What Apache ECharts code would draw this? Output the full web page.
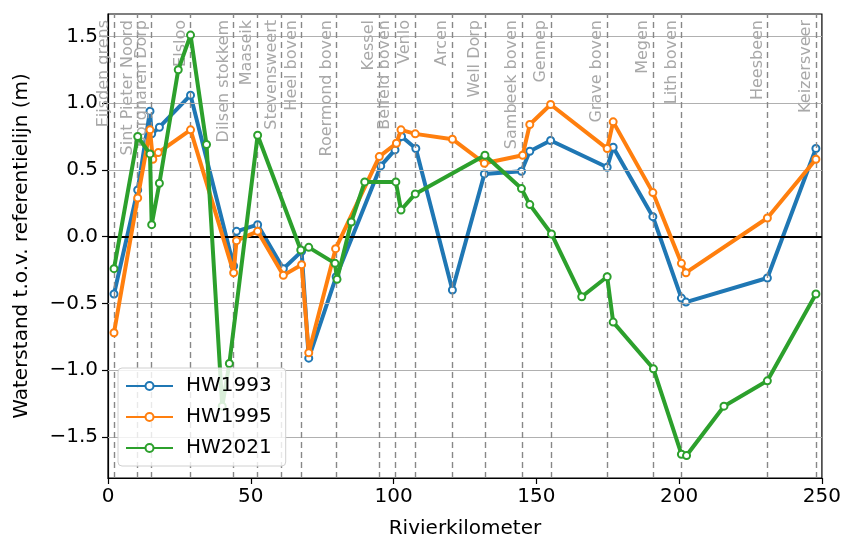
<!DOCTYPE html>
<html><head><meta charset="utf-8">
<script src="https://cdn.jsdelivr.net/npm/echarts@6/dist/echarts.min.js"></script>
<style>html,body{margin:0;padding:0;background:#fff}#c{width:844px;height:545px}</style>
</head><body><div id="c"></div>
<script>
// Station reference lines
const stationNames = ["Eijsden grens","Sint Pieter Noord","Borgharen Dorp","Elsloo","Dilsen stokkem","Maaseik","Stevensweert","Heel boven","Roermond boven","Kessel","Belfeld boven","Venlo","Arcen","Well Dorp","Sambeek boven","Gennep","Grave boven","Megen","Lith boven","Heesbeen","Keizersveer"];
const stationKm = [2.1, 10.4, 15.3, 28.9, 43.9, 52.2, 60.8, 67.8, 80.0, 95.0, 100.6, 107.6, 120.5, 132.0, 144.9, 155.1, 174.8, 190.8, 200.9, 230.9, 247.9];

// Axis ticks
const xTicks = [0, 50, 100, 150, 200, 250];
const yTicks = [-1.5, -1.0, -0.5, 0.0, 0.5, 1.0, 1.5];

// HW1993
const hw1993Km = [2.1, 10.4, 14.7, 15.3, 18.0, 28.9, 44.0, 45.0, 52.4, 61.4, 67.8, 70.3, 79.9, 95.5, 100.5, 102.8, 107.8, 120.6, 131.8, 144.8, 147.7, 155.0, 174.8, 176.9, 190.8, 200.8, 202.4, 230.9, 247.9];
const hw1993 = [-0.43, 0.35, 0.94, 0.77, 0.82, 1.06, -0.22, 0.04, 0.09, -0.24, -0.11, -0.91, -0.30, 0.53, 0.65, 0.75, 0.66, -0.40, 0.47, 0.49, 0.64, 0.72, 0.52, 0.67, 0.15, -0.46, -0.49, -0.31, 0.66];

// HW1995
const hw1995Km = [2.1, 10.4, 14.7, 15.7, 17.6, 28.9, 44.0, 45.0, 52.4, 61.4, 67.8, 70.3, 79.7, 95.0, 101.0, 102.6, 107.6, 120.6, 131.8, 145.2, 147.7, 155.0, 174.8, 176.9, 190.8, 200.8, 202.4, 230.9, 247.9];
const hw1995 = [-0.72, 0.29, 0.80, 0.58, 0.63, 0.80, -0.27, -0.03, 0.04, -0.29, -0.21, -0.87, -0.09, 0.60, 0.70, 0.80, 0.77, 0.73, 0.55, 0.61, 0.84, 0.99, 0.66, 0.86, 0.33, -0.20, -0.27, 0.14, 0.58];

// HW2021
const hw2021Km = [2.1, 10.4, 14.7, 15.3, 18.0, 24.6, 28.9, 34.5, 40.0, 42.5, 52.4, 67.5, 70.3, 79.5, 80.2, 85.2, 89.9, 100.8, 102.6, 107.6, 132.0, 144.8, 147.7, 155.3, 165.9, 174.8, 176.9, 191.0, 200.8, 202.6, 215.7, 230.9, 247.9];
const hw2021 = [-0.24, 0.75, 0.62, 0.09, 0.40, 1.25, 1.51, 0.69, -1.27, -0.95, 0.76, -0.10, -0.08, -0.20, -0.32, 0.11, 0.41, 0.41, 0.20, 0.32, 0.61, 0.36, 0.24, 0.02, -0.45, -0.30, -0.64, -0.99, -1.63, -1.64, -1.27, -1.08, -0.43];

const FONT = 'DejaVu Sans';
const pairs = (xs, ys) => xs.map((x, i) => [x, ys[i]]);
const fmtNum = v => (Math.abs(v) < 1e-9 ? '0.0' : v.toFixed(1)).replace('-', '\u2212');

function lineSeries(name, color, xs, ys, z) {
  return {
    name, type: 'line', data: pairs(xs, ys), z,
    symbol: 'emptyCircle', symbolSize: 7,
    lineStyle: { color, width: 4 },
    itemStyle: { color, borderWidth: 1.8 },
    emphasis: { disabled: true },
    animation: false
  };
}

const chart = echarts.init(document.getElementById('c'), null, { renderer: 'canvas' });
chart.setOption({
  animation: false,
  backgroundColor: '#fff',
  textStyle: { fontFamily: FONT },
  grid: { left: 108, right: 22, top: 14, bottom: 67, show: true, borderColor: '#000', borderWidth: 1.2, backgroundColor: 'transparent' },
  legend: {
    orient: 'vertical', left: 118, top: 368, z: 20,
    data: ['HW1993', 'HW1995', 'HW2021'],
    itemWidth: 47, itemHeight: 10, itemGap: 11,
    padding: [8, 14, 8, 7],
    backgroundColor: 'rgba(255,255,255,0.82)',
    borderColor: '#d0d0d0', borderWidth: 1, borderRadius: 4,
    textStyle: { fontFamily: FONT, fontSize: 20, color: '#000', lineHeight: 20, padding: [0, 0, 0, 8] }
  },
  xAxis: {
    type: 'value', min: 0, max: 250, interval: 50,
    name: 'Rivierkilometer', nameLocation: 'middle', nameGap: 41,
    nameTextStyle: { fontFamily: FONT, fontSize: 20, color: '#000' },
    axisLine: { show: true, onZero: false, lineStyle: { color: '#000', width: 1.2 } },
    axisTick: { show: true, length: 6, lineStyle: { color: '#000', width: 1.2 } },
    axisLabel: { fontFamily: FONT, fontSize: 20, color: '#000', margin: 9 },
    splitLine: { show: false }
  },
  yAxis: {
    type: 'value', min: -1.808, max: 1.668,
    name: 'Waterstand t.o.v. referentielijn (m)', nameLocation: 'middle', nameGap: 76, nameRotate: 90,
    nameTextStyle: { fontFamily: FONT, fontSize: 20, color: '#000' },
    axisLine: { show: true, onZero: false, lineStyle: { color: '#000', width: 1.2 } },
    axisTick: { show: true, length: 6, customValues: yTicks, lineStyle: { color: '#000', width: 1.2 } },
    axisLabel: { fontFamily: FONT, fontSize: 20, color: '#000', margin: 10, customValues: yTicks, formatter: v => fmtNum(v) },
    splitLine: { show: false }
  },
  series: [
    {
      name: 'grid', type: 'line', data: [], z: 1, silent: true,
      markLine: {
        silent: true, animation: false, symbol: ['none', 'none'],
        lineStyle: { color: '#b0b0b0', width: 1, type: 'solid' },
        label: { show: false },
        data: yTicks.filter(v => v !== 0).map(v => ({ yAxis: v }))
      }
    },
    {
      name: 'stations', type: 'line', data: [], z: 2, silent: true,
      markLine: {
        silent: true, animation: false, symbol: ['none', 'none'],
        lineStyle: { color: '#888', width: 1.4, type: [6, 4] },
        label: { show: true, position: 'insideEndTop', distance: [6, 2], color: '#a8a8a8', fontFamily: FONT, fontSize: 16 },
        data: stationKm.map((k, i) => ({ xAxis: k, label: { formatter: stationNames[i] } }))
      }
    },
    {
      name: 'zero', type: 'line', data: [], z: 3, silent: true,
      markLine: {
        silent: true, animation: false, symbol: ['none', 'none'],
        lineStyle: { color: '#000', width: 2, type: 'solid' },
        label: { show: false },
        data: [{ yAxis: 0 }]
      }
    },
    lineSeries('HW1993', '#1f77b4', hw1993Km, hw1993, 4),
    lineSeries('HW1995', '#ff7f0e', hw1995Km, hw1995, 5),
    lineSeries('HW2021', '#2ca02c', hw2021Km, hw2021, 6)
  ]
});
</script>
</body></html>
